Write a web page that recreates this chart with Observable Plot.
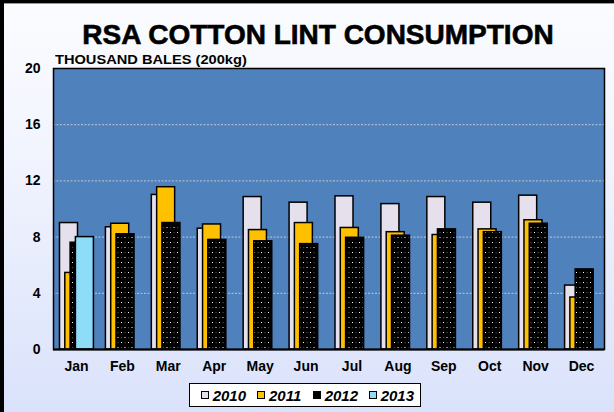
<!DOCTYPE html>
<html><head><meta charset="utf-8">
<script src="https://cdn.jsdelivr.net/npm/d3@7"></script>
<script src="https://cdn.jsdelivr.net/npm/@observablehq/plot@0.6"></script>
<style>
body{margin:0;background:#fff;}
#wrap{position:relative;width:614px;height:412px;overflow:hidden;background:linear-gradient(#fbfcff 0%, #f3f5fe 35%, #dae2fb 100%);font-family:"Liberation Sans",Arial,sans-serif;color:#000;}
#wrap svg{position:absolute;left:0;top:0;}
#bl{position:absolute;left:0;top:0;width:4px;height:412px;background:#000;}
#bt{position:absolute;left:0;top:0;width:614px;height:3px;background:#000;}
#bt2{position:absolute;left:4px;top:3px;width:610px;height:1px;background:#9a9a9a;}
#title{position:absolute;left:0;top:21px;width:636px;text-align:center;font-size:28px;line-height:28px;font-weight:bold;-webkit-text-stroke:0.6px #000;white-space:nowrap;}
#unit{position:absolute;left:55px;top:54px;font-size:12.5px;line-height:12px;font-weight:bold;white-space:nowrap;transform:scaleX(1.17);transform-origin:0 0;}
#legend{position:absolute;left:189px;top:383px;width:230px;height:22px;border:1px solid #000;background:#fff;display:flex;align-items:center;}
.item{width:56px;box-sizing:border-box;padding-left:11px;display:flex;align-items:center;font-size:15px;font-weight:bold;font-style:italic;}
.sw{width:6px;height:6px;border:1px solid #000;margin-right:4px;}
</style>
</head><body>
<div id="wrap">
  <div id="bl"></div><div id="bt"></div><div id="bt2"></div>
  <div id="title">RSA COTTON LINT CONSUMPTION</div>
  <div id="unit">THOUSAND BALES (200kg)</div>
  <div id="legend"></div>
</div>
<script>
const months = ["Jan","Feb","Mar","Apr","May","Jun","Jul","Aug","Sep","Oct","Nov","Dec"];
const years = ["2010","2011","2012","2013"];
const v2010 = [9.0, 8.7, 11.0, 8.6, 10.85, 10.45, 10.9, 10.35, 10.85, 10.45, 10.95, 4.55];
const v2011 = [5.45, 8.95, 11.55, 8.9, 8.5, 9.0, 8.65, 8.35, 8.15, 8.55, 9.2, 3.7];
const v2012 = [7.6, 8.2, 9.0, 7.8, 7.7, 7.5, 7.95, 8.1, 8.55, 8.35, 8.95, 5.7];
const v2013 = [8.0];
const yTicks = [0, 4, 8, 12, 16, 20];
const gridTicks = [4, 8, 12, 16];

const seriesValues = [v2010, v2011, v2012, v2013];
const seriesFill = ["#e6e0ec", "#ffc000", "url(#dots)", "#8ddcf8"];
const legendFill = ["#e6e0ec", "#ffc000", "#000", "#8ddcf8"];

const rows = [];
seriesValues.forEach((vals, i) => vals.forEach((v, j) => rows.push({month: months[j], year: years[i], value: v})));

const bandW = (604 - 53) / months.length;
const barW = 18;
const barMarks = years.map((yr, i) => {
  const left = 6.5 + 5.3 * i;
  return Plot.barY(rows.filter(d => d.year === yr), {
    x: "month", y: "value", fill: seriesFill[i], stroke: "#000", strokeWidth: 1.5,
    insetLeft: left, insetRight: bandW - barW - left
  });
});

const chart = Plot.plot({
  width: 614, height: 412,
  marginLeft: 53, marginRight: 10, marginTop: 68, marginBottom: 63,
  style: {fontFamily: "'Liberation Sans', Arial, sans-serif", color: "#000", background: "transparent"},
  x: {domain: months, padding: 0, round: false},
  y: {domain: [0, 20]},
  marks: [
    Plot.frame({fill: "#4f81bd", stroke: null}),
    Plot.ruleY(gridTicks, {stroke: "#c4c8d0", strokeWidth: 1, strokeDasharray: "2,1.5"}),
    ...barMarks,
    Plot.frame({stroke: "#000", strokeWidth: 1.5}),
    Plot.ruleY([0], {stroke: "#000", strokeWidth: 2}),
    Plot.axisY({ticks: yTicks, tickSize: 0, tickPadding: 13, fontSize: 14, fontWeight: "bold", label: null}),
    Plot.axisX({tickSize: 0, tickPadding: 12, fontSize: 14, fontWeight: "bold", label: null})
  ]
});

// dotted pattern for 2012 bars
const ns = "http://www.w3.org/2000/svg";
const defs = document.createElementNS(ns, "defs");
const pat = document.createElementNS(ns, "pattern");
pat.setAttribute("id", "dots");
pat.setAttribute("patternUnits", "userSpaceOnUse");
pat.setAttribute("width", "7");
pat.setAttribute("height", "10");
const addRect = (x, y, w, h, f) => { const r = document.createElementNS(ns, "rect"); r.setAttribute("x", x); r.setAttribute("y", y); r.setAttribute("width", w); r.setAttribute("height", h); r.setAttribute("fill", f); pat.appendChild(r); };
addRect(0, 0, 7, 10, "#000");
addRect(2, 2, 1, 1, "#fff");
addRect(5.5, 7, 1, 1, "#fff");
addRect(5.5, 2, 1.2, 1.2, "#444");
addRect(2, 7, 1.2, 1.2, "#444");
defs.appendChild(pat);
chart.insertBefore(defs, chart.firstChild);

document.getElementById("wrap").insertBefore(chart, document.getElementById("title"));

const legend = document.getElementById("legend");
years.forEach((yr, i) => {
  const it = document.createElement("div"); it.className = "item";
  const sw = document.createElement("div"); sw.className = "sw"; sw.style.background = legendFill[i];
  const tx = document.createElement("span"); tx.textContent = yr;
  it.appendChild(sw); it.appendChild(tx); legend.appendChild(it);
});
</script>
</body></html>
